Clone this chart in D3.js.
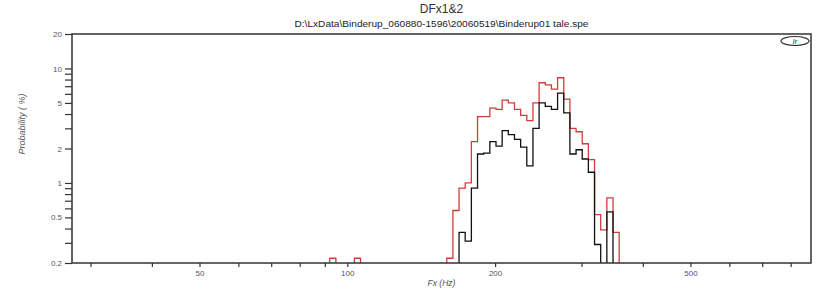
<!DOCTYPE html>
<html>
<head>
<meta charset="utf-8">
<script src="https://cdn.jsdelivr.net/npm/d3@7"></script>
<style>
  body { margin: 0; background: #fff; }
  svg { display: block; font-family: "Liberation Sans", Arial, sans-serif; }
</style>
</head>
<body>
<div class="chart"></div>
<script>
var title = "DFx1&2";
var subtitle = "D:\\LxData\\Binderup_060880-1596\\20060519\\Binderup01 tale.spe";
var xLabel = "Fx (Hz)";
var yLabel = "Probability ( %)";
var legendText = "Ir";

// histogram bins (quarter tones), index k -> lower edge firstBinHz * 2^(k/24)
var firstBinHz = 92.1;
var binsPerOctave = 24;
var bins = [0, 4, 19, 20, 21, 22, 23, 24, 25, 26, 27, 28, 29, 30, 31, 32, 33,
            34, 35, 36, 37, 38, 39, 40, 41, 42, 43, 44, 45, 46];
// red = Fx1&2 together, black = second one
var redValues = [0.22, 0.22, 0.22, 0.575, 0.9, 1.0, 2.3, 3.8, 3.8, 4.5, 4.4, 5.3, 5.0, 4.4, 3.9, 3.5, 5.0,
                 7.5, 7.2, 6.6, 8.3, 5.4, 3.0, 2.8, 2.2, 1.6, 0.53, 0.39, 0.74, 0.37];
var blackValues = [0, 0, 0, 0, 0.37, 0.31, 0.9, 1.79, 1.82, 2.3, 2.1, 2.86, 2.64, 2.4, 2.06, 1.41, 3.0,
                   5.0, 4.66, 4.4, 6.1, 4.1, 1.79, 1.95, 1.62, 1.24, 0.29, 0, 0.56, 0];

var xDomain = [27.5, 880];
var yDomain = [0.2, 20];
var xMajor = [50, 100, 200, 500];
var xMinor = [30, 40, 60, 70, 80, 90, 300, 400, 600, 700, 800];
var yMajor = [0.2, 0.5, 1, 2, 5, 10, 20];
var yMinor = [0.3, 0.4, 0.6, 0.7, 0.8, 0.9, 3, 4, 6, 7, 8, 9];

var W = 817, H = 291;
var plotL = 72, plotR = 811, plotT = 34, plotB = 263;
var labelColor = "#555";

var svg = d3.select("div.chart")
            .append("svg")
            .attr("width", W)
            .attr("height", H);

var x = d3.scaleLog().domain(xDomain).range([plotL, plotR]);
var y = d3.scaleLog().domain(yDomain).range([plotB, plotT]);

function edgeHz(k) {
  return firstBinHz * Math.pow(2, k / binsPerOctave);
}

// step outline of a histogram, dropping to baseline where the bins stop
function stepPath(values) {
  var p = d3.path();
  var open = false;
  for (var i = 0; i < bins.length; i++) {
    var v = values[i];
    var k = bins[i];
    var x0 = x(edgeHz(k)), x1 = x(edgeHz(k + 1));
    if (v > 0) {
      if (!open) { p.moveTo(x0, plotB); }
      p.lineTo(x0, y(v));
      p.lineTo(x1, y(v));
      open = true;
    }
    var nextOk = i + 1 < bins.length && bins[i + 1] == k + 1 && values[i + 1] > 0;
    if (open && !nextOk) {
      p.lineTo(x1, plotB);
      open = false;
    }
  }
  return p.toString();
}

// titles
svg.append("text")
   .attr("x", (plotL + plotR) / 2).attr("y", 13)
   .attr("text-anchor", "middle")
   .attr("font-size", "12px")
   .attr("fill", "#333")
   .text(title);
svg.append("text")
   .attr("x", (plotL + plotR) / 2).attr("y", 27)
   .attr("text-anchor", "middle")
   .attr("font-size", "8.5px")
   .attr("textLength", 294)
   .attr("lengthAdjust", "spacingAndGlyphs")
   .attr("fill", "#222")
   .text(subtitle);

// data
svg.append("path")
   .attr("d", stepPath(redValues))
   .attr("fill", "none")
   .attr("stroke", "#d23c3c")
   .attr("stroke-width", 1.3);
svg.append("path")
   .attr("d", stepPath(blackValues))
   .attr("fill", "none")
   .attr("stroke", "#111")
   .attr("stroke-width", 1.3);

// frame
svg.append("rect")
   .attr("x", plotL).attr("y", plotT)
   .attr("width", plotR - plotL).attr("height", plotB - plotT)
   .attr("fill", "none")
   .attr("stroke", "#333")
   .attr("stroke-width", 1.5);

// y axis
var yAxis = d3.axisLeft(y)
              .tickValues(yMajor.concat(yMinor))
              .tickSize(7)
              .tickPadding(3)
              .tickFormat(function(d) { return yMajor.indexOf(d) >= 0 ? d3.format("")(d) : ""; });
var gy = svg.append("g")
            .attr("transform", "translate(" + plotL + ",0)")
            .call(yAxis);

// x axis
var xAxis = d3.axisBottom(x)
              .tickValues(xMajor.concat(xMinor))
              .tickSize(4)
              .tickPadding(3)
              .tickFormat(function(d) { return xMajor.indexOf(d) >= 0 ? d : ""; });
var gx = svg.append("g")
            .attr("transform", "translate(0," + plotB + ")")
            .call(xAxis);

[gx, gy].forEach(function(g) {
  g.select(".domain").remove();
  g.selectAll(".tick line").attr("stroke", "#333").attr("stroke-width", 1.2);
  g.selectAll(".tick text")
   .attr("fill", labelColor)
   .attr("font-size", "8px")
   .attr("font-family", "Liberation Sans, Arial, sans-serif");
});

// axis labels
svg.append("text")
   .attr("x", (plotL + plotR) / 2).attr("y", 286)
   .attr("text-anchor", "middle")
   .attr("font-size", "8.5px")
   .attr("font-style", "italic")
   .attr("fill", labelColor)
   .text(xLabel);
svg.append("text")
   .attr("transform", "translate(25,124) rotate(-90)")
   .attr("text-anchor", "middle")
   .attr("font-size", "9px")
   .attr("font-style", "italic")
   .attr("fill", labelColor)
   .text(yLabel);

// legend tag top right
svg.append("ellipse")
   .attr("cx", 795).attr("cy", 41)
   .attr("rx", 14).attr("ry", 4.5)
   .attr("fill", "none")
   .attr("stroke", "#333")
   .attr("stroke-width", 1.2);
svg.append("text")
   .attr("x", 795).attr("y", 44)
   .attr("text-anchor", "middle")
   .attr("font-size", "7px")
   .attr("font-style", "italic")
   .attr("text-decoration", "underline")
   .attr("fill", "#222")
   .text(legendText);
</script>
</body>
</html>
